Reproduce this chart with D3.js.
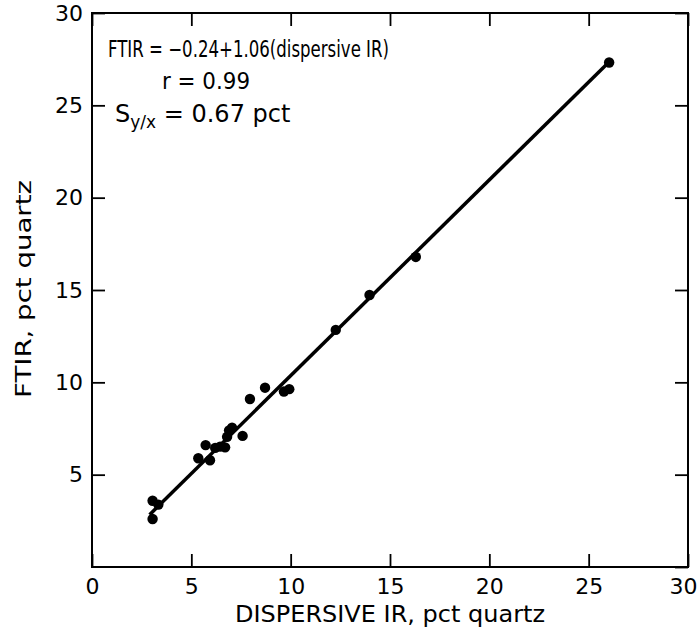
<!DOCTYPE html>
<html>
<head>
<meta charset="utf-8">
<script src="https://cdn.jsdelivr.net/npm/d3@7"></script>
<style>
  body { margin: 0; background: #fff; }
  text { font-family: "DejaVu Sans", sans-serif; fill: #000; }
</style>
</head>
<body>
<script>
// values
const dispersive = [3.05, 3.34, 3.05, 5.35, 5.72, 5.94, 6.2, 6.45, 6.7, 6.8, 6.9, 7.05, 7.58, 7.95, 8.71, 9.66, 9.93, 12.27, 13.97, 16.3, 26.03];
const ftir = [3.59, 3.38, 2.6, 5.89, 6.6, 5.78, 6.45, 6.52, 6.48, 7.05, 7.4, 7.55, 7.1, 9.1, 9.71, 9.5, 9.63, 12.84, 14.73, 16.79, 27.32];
const ticks = [0, 5, 10, 15, 20, 25, 30];
const fit = { intercept: -0.24, slope: 1.06, from: 2.9, to: 26.0 };
const notes = ["FTIR = \u22120.24+1.06(dispersive IR)", "r = 0.99", "0.67 pct"];

const width = 699, height = 636;
const margin = { top: 13, right: 11, bottom: 69, left: 92 };

const x = d3.scaleLinear().domain([0, 30]).range([margin.left, width - margin.right]);
const y = d3.scaleLinear().domain([0, 30]).range([height - margin.bottom, margin.top]);

const svg = d3.select("body").append("svg")
    .attr("width", width)
    .attr("height", height);

// frame
svg.append("rect")
    .attr("x", x(0)).attr("y", y(30))
    .attr("width", x(30) - x(0)).attr("height", y(0) - y(30))
    .attr("fill", "none").attr("stroke", "#000").attr("stroke-width", 2);

const tickLen = 13;
function styleAxis(g) {
  g.select(".domain").remove();
  g.selectAll(".tick line").attr("stroke", "#000").attr("stroke-width", 1.8);
  g.selectAll(".tick text").attr("font-size", 22).attr("fill", "#000")
      .attr("font-family", "DejaVu Sans, sans-serif");
}

const xAxis = svg.append("g")
    .attr("transform", `translate(0,${y(0)})`)
    .call(d3.axisBottom(x).tickValues(ticks).tickSize(-tickLen).tickPadding(11))
    .call(styleAxis);
// last label sits a little left so it stays on the page
xAxis.selectAll(".tick text").filter(d => d === 30)
    .attr("text-anchor", "end").attr("x", 9);

svg.append("g")
    .attr("transform", `translate(0,${y(30)})`)
    .call(d3.axisTop(x).tickValues(ticks).tickSize(-tickLen).tickFormat(""))
    .call(styleAxis);

svg.append("g")
    .attr("transform", `translate(${x(0)},0)`)
    .call(d3.axisLeft(y).tickValues(ticks.slice(1)).tickSize(-tickLen).tickPadding(9))
    .call(styleAxis);

svg.append("g")
    .attr("transform", `translate(${x(30)},0)`)
    .call(d3.axisRight(y).tickValues(ticks).tickSize(-tickLen).tickFormat(""))
    .call(styleAxis);

// axis titles
svg.append("text")
    .attr("x", 235)
    .attr("y", 622)
    .attr("font-size", 23)
    .attr("textLength", 310)
    .attr("lengthAdjust", "spacingAndGlyphs")
    .text("DISPERSIVE IR,  pct quartz");

svg.append("text")
    .attr("transform", `translate(31,${(y(0) + y(30)) / 2 - 1}) rotate(-90)`)
    .attr("text-anchor", "middle")
    .attr("font-size", 22)
    .attr("textLength", 218)
    .attr("lengthAdjust", "spacingAndGlyphs")
    .text("FTIR,  pct quartz");

// regression line
svg.append("line")
    .attr("x1", x(fit.from)).attr("y1", y(fit.intercept + fit.slope * fit.from))
    .attr("x2", x(fit.to)).attr("y2", y(fit.intercept + fit.slope * fit.to))
    .attr("stroke", "#000").attr("stroke-width", 3.5);

// points
svg.append("g")
  .selectAll("circle")
  .data(dispersive)
  .join("circle")
    .attr("cx", d => x(d))
    .attr("cy", (d, i) => y(ftir[i]))
    .attr("r", 5.2)
    .attr("fill", "#000");

// annotation
svg.append("text")
    .attr("x", 108).attr("y", 57)
    .attr("font-size", 23)
    .attr("textLength", 281)
    .attr("lengthAdjust", "spacingAndGlyphs")
    .text(notes[0]);

svg.append("text")
    .attr("x", 162).attr("y", 89)
    .attr("font-size", 23)
    .attr("textLength", 88)
    .attr("lengthAdjust", "spacingAndGlyphs")
    .text(notes[1]);

const s = svg.append("text")
    .attr("x", 115).attr("y", 122)
    .attr("font-size", 24);
s.append("tspan").text("S");
s.append("tspan").attr("font-size", 17).attr("dy", 6).text("y/x");
s.append("tspan").attr("dy", -6).text(" = " + notes[2]);
</script>
</body>
</html>
